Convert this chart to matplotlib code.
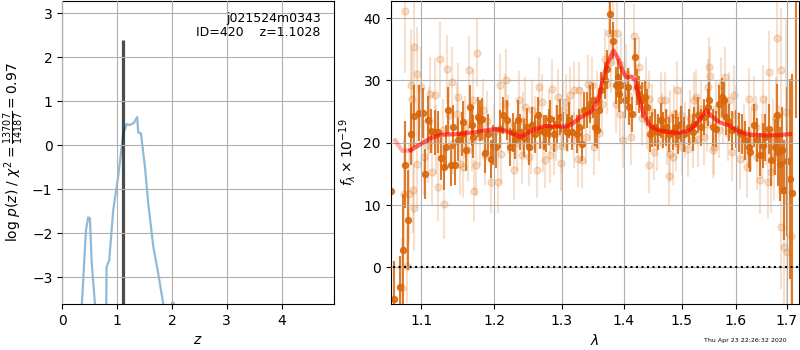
import numpy as np
import matplotlib
matplotlib.use("Agg")
import matplotlib.pyplot as plt
from matplotlib.ticker import FixedLocator, FixedFormatter, NullLocator

# ---- p(z) panel ----
zbest = 1.1028
zbest_top = 2.39
pz_z = [0.35, 0.432, 0.474, 0.505, 0.536, 0.596, 0.70, 0.80,
        0.802, 0.809, 0.857, 0.93, 1.02, 1.112, 1.174, 1.234, 1.307, 1.367,
        1.386, 1.435, 1.508, 1.568, 1.66, 1.75, 1.84, 1.95,
        1.99, 2.0, 2.03, 2.04]
pz_logp = [-3.8, -1.93, -1.64, -1.66, -2.64, -3.6, -8.0, -8.0,
           -3.7, -2.76, -2.61, -1.47, -0.71, 0.27, 0.48, 0.46, 0.51, 0.64,
           0.29, 0.27, -0.49, -1.32, -2.30, -2.91, -3.59, -6.0,
           -3.7, -3.58, -3.58, -3.7]

# ---- spectrum panel: binned (dark) points ----
dark_wave = [1.0614, 1.0645, 1.0725, 1.0755, 1.0791, 1.0822, 1.0867, 1.0902, 1.0968, 1.1022,
             1.1050, 1.1091, 1.1128, 1.1174, 1.1220, 1.1266, 1.1303, 1.1321, 1.1358, 1.1394,
             1.1427, 1.1449, 1.1496, 1.1541, 1.1565, 1.1596, 1.1655, 1.1679, 1.1702, 1.1761,
             1.1793, 1.1817, 1.1862, 1.1909, 1.1954, 1.1978, 1.2026, 1.2075, 1.2126, 1.2175,
             1.2225, 1.2261, 1.2300, 1.2340, 1.2375, 1.2426, 1.2475, 1.2510, 1.2550, 1.2600,
             1.2640, 1.2675, 1.2726, 1.2760, 1.2810, 1.2825, 1.2876, 1.2925, 1.2975, 1.3027,
             1.3080, 1.3117, 1.3161, 1.3241, 1.3278, 1.3321, 1.3348, 1.3401, 1.3454, 1.3498,
             1.3534, 1.3562, 1.3589, 1.3631, 1.3685, 1.3722, 1.3775, 1.3814, 1.3867, 1.3899,
             1.3920, 1.3952, 1.4018, 1.4065, 1.4088, 1.4135, 1.4182, 1.4223, 1.4263, 1.4310,
             1.4358, 1.4398, 1.4439, 1.4486, 1.4533, 1.4574, 1.4631, 1.4674, 1.4719, 1.4779,
             1.4837, 1.4895, 1.4942, 1.4982, 1.5044, 1.5136, 1.5197, 1.5228, 1.5289, 1.5349,
             1.5412, 1.5472, 1.5504, 1.5564, 1.5625, 1.5687, 1.5735, 1.5779, 1.5809, 1.5871,
             1.5932, 1.5993, 1.6057, 1.6119, 1.6181, 1.6245, 1.6276, 1.6340, 1.6402, 1.6465,
             1.6529, 1.6572, 1.6653, 1.6685, 1.6761, 1.6798, 1.6823, 1.6860, 1.6906, 1.6936,
             1.7012, 1.7064, 1.7116, 1.7185]
dark_flux = [12.2, -5.0, -3.1, 2.8, 16.5, 7.6, 21.4, 24.3, 24.8, 24.8,
             15.0, 23.7, 21.9, 21.7, 21.7, 17.5, 16.1, 19.3, 25.2, 16.5,
             22.5, 16.5, 20.5, 21.4, 23.3, 18.8, 25.8, 22.8, 21.0, 24.1,
             23.6, 23.8, 18.3, 21.4, 17.4, 19.6, 19.3, 22.2, 24.4, 23.6,
             19.3, 21.7, 20.4, 23.6, 21.7, 20.8, 22.5, 19.3, 22.8, 21.4,
             24.4, 22.0, 21.7, 21.5, 22.5, 23.8, 21.4, 23.0, 24.1, 22.2,
             21.7, 23.6, 21.7, 21.4, 22.5, 19.8, 25.2, 25.2, 26.2, 26.8,
             22.5, 22.0, 25.2, 28.4, 30.0, 31.8, 40.7, 36.4, 29.2, 30.5,
             27.8, 29.2, 26.8, 29.0, 25.7, 24.6, 33.8, 28.9, 27.8, 26.8,
             27.3, 25.7, 21.4, 22.1, 22.5, 21.7, 23.6, 22.0, 22.5, 21.4,
             21.7, 22.5, 21.2, 23.0, 21.4, 22.5, 21.7, 23.0, 24.4, 22.5,
             24.1, 25.7, 26.9, 22.5, 22.2, 26.2, 27.3, 26.8, 24.1, 23.3,
             22.0, 22.2, 21.7, 21.4, 20.4, 19.3, 18.5, 22.8, 20.4, 18.1,
             19.6, 20.9, 22.2, 17.3, 19.3, 24.5, 18.5, 16.6, 18.8, 12.4,
             17.0, 14.2, 12.0, 52.0]
dark_err = [30.0, 6.0, 5.0, 9.0, 7.0, 8.0, 5.0, 5.0, 4.5, 4.0,
            4.0, 3.8, 3.5, 3.6, 3.4, 3.5, 3.6, 3.5, 3.8, 3.4,
            3.5, 3.3, 3.4, 3.5, 3.4, 3.3, 3.5, 3.3, 3.4, 3.2,
            3.3, 3.4, 3.2, 3.3, 3.1, 3.2, 3.3, 3.1, 3.0, 3.2,
            3.0, 3.1, 3.0, 3.2, 2.9, 3.0, 3.1, 2.9, 3.0, 3.1,
            2.9, 3.0, 2.8, 3.0, 2.9, 3.0, 2.8, 3.0, 2.9, 2.8,
            3.0, 2.9, 2.8, 3.0, 2.9, 2.8, 3.0, 2.9, 3.0, 2.8,
            3.0, 2.9, 3.0, 2.9, 3.0, 3.1, 3.2, 3.0, 2.9, 3.0,
            2.9, 3.0, 2.9, 3.0, 2.9, 2.8, 3.0, 2.9, 3.0, 2.9,
            2.8, 3.0, 2.9, 2.8, 3.0, 2.9, 2.8, 2.9, 3.0, 2.8,
            2.9, 2.8, 3.0, 2.9, 2.8, 2.9, 3.0, 2.8, 2.9, 3.0,
            2.9, 3.0, 2.9, 3.0, 2.9, 3.0, 3.1, 3.0, 2.9, 3.0,
            3.1, 3.0, 3.1, 3.2, 3.1, 3.3, 3.2, 3.4, 3.5, 3.4,
            3.6, 3.8, 4.0, 4.2, 4.5, 5.0, 5.5, 6.0, 7.0, 8.0,
            12.0, 16.0, 19.0, 28.0]

# ---- spectrum panel: unbinned (light) points ----
light_wave = [1.0745, 1.0770, 1.0784, 1.0815, 1.0836, 1.0859, 1.0881, 1.0885, 1.0902, 1.0905,
              1.0938, 1.0947, 1.1000, 1.1036, 1.1083, 1.1118, 1.1142, 1.1174, 1.1220, 1.1242,
              1.1297, 1.1335, 1.1362, 1.1403, 1.1474, 1.1496, 1.1514, 1.1565, 1.1633, 1.1642,
              1.1702, 1.1711, 1.1734, 1.1748, 1.1840, 1.1862, 1.1954, 1.2051, 1.2075, 1.2100,
              1.2148, 1.2165, 1.2276, 1.2351, 1.2400, 1.2450, 1.2501, 1.2550, 1.2625, 1.2651,
              1.2700, 1.2750, 1.2825, 1.2850, 1.2876, 1.2940, 1.2990, 1.3027, 1.3064, 1.3133,
              1.3188, 1.3257, 1.3278, 1.3321, 1.3412, 1.3482, 1.3509, 1.3642, 1.3695, 1.3750,
              1.3814, 1.3867, 1.3883, 1.3936, 1.3990, 1.4123, 1.4175, 1.4253, 1.4368, 1.4428,
              1.4432, 1.4516, 1.4631, 1.4709, 1.4768, 1.4789, 1.4837, 1.4866, 1.4924, 1.5013,
              1.5105, 1.5228, 1.5257, 1.5301, 1.5472, 1.5504, 1.5510, 1.5564, 1.5595, 1.5717,
              1.5798, 1.5871, 1.5932, 1.5963, 1.6087, 1.6213, 1.6245, 1.6340, 1.6402, 1.6465,
              1.6529, 1.6623, 1.6653, 1.6685, 1.6747, 1.6811, 1.6874, 1.6892, 1.6936, 1.6980,
              1.7012, 1.7090,
              1.1105, 1.1190, 1.1280, 1.1420, 1.1580, 1.1680, 1.1800, 1.1900, 1.2000, 1.2200,
              1.2320, 1.2420, 1.2530, 1.2600, 1.2720, 1.2800, 1.2920, 1.3000, 1.3100, 1.3200,
              1.3300, 1.3380, 1.3450, 1.3560, 1.3600, 1.3720, 1.3790, 1.3950, 1.4030, 1.4080,
              1.4200, 1.4300, 1.4400, 1.4480, 1.4560, 1.4650, 1.4740, 1.4800, 1.4900, 1.4980,
              1.5060, 1.5150, 1.5200, 1.5350, 1.5400, 1.5450, 1.5620, 1.5680, 1.5760, 1.5850,
              1.6000, 1.6150, 1.6300, 1.6380, 1.6500, 1.6580, 1.6720, 1.6780, 1.6850]
light_flux = [-3.3, 11.8, 41.2, 0.3, 11.8, 29.3, 27.0, 12.5, 35.3, 9.6,
              16.6, 31.1, 29.0, 17.7, 19.6, 27.8, 15.3, 27.6, 12.9, 33.4,
              10.1, 31.8, 24.4, 29.8, 24.6, 27.3, 16.6, 16.1, 18.8, 31.7,
              26.9, 12.3, 16.5, 34.4, 25.2, 18.0, 13.7, 13.7, 29.3, 18.2,
              26.2, 30.1, 15.6, 26.8, 18.0, 25.7, 17.7, 25.2, 15.7, 29.0,
              26.5, 17.3, 18.0, 28.6, 19.3, 27.3, 16.7, 25.2, 26.6, 27.6,
              28.4, 17.4, 28.4, 17.3, 29.5, 29.2, 19.3, 26.2, 33.4, 37.7,
              37.7, 26.2, 37.7, 24.7, 20.4, 21.0, 37.2, 32.1, 29.2, 27.0,
              16.5, 18.5, 26.9, 26.8, 14.6, 18.2, 17.7, 24.7, 28.5, 19.3,
              19.0, 26.8, 27.3, 20.6, 28.9, 32.1, 30.8, 18.9, 19.4, 29.2,
              30.6, 26.8, 18.5, 27.7, 17.4, 16.1, 27.0, 25.7, 17.7, 14.0,
              27.0, 13.7, 31.4, 15.3, 17.7, 36.8, 6.5, 31.7, 3.3, 25.0,
              2.5, 5.0,
              23.5, 20.5, 22.0, 20.0, 22.5, 20.5, 21.0, 23.5, 21.5, 23.0,
              20.0, 23.5, 19.5, 23.0, 19.8, 24.0, 21.5, 19.5, 23.0, 20.5,
              24.5, 21.0, 24.5, 27.0, 21.5, 29.5, 33.0, 32.5, 31.0, 27.5,
              28.5, 24.0, 23.5, 25.0, 20.0, 23.5, 21.0, 24.0, 20.0, 24.5,
              22.0, 24.0, 20.5, 25.5, 21.0, 23.0, 25.5, 22.0, 24.5, 21.5,
              24.5, 21.5, 20.5, 22.5, 19.5, 22.0, 21.0, 24.0, 19.0]
light_err = [8.0, 9.0, 10.0, 6.0, 8.0, 9.0, 8.0, 7.0, 8.0, 7.0,
             7.0, 7.5, 6.5, 6.0, 6.0, 6.0, 5.5, 6.0, 5.5, 6.0,
             5.5, 5.5, 5.0, 5.5, 5.0, 5.5, 5.0, 5.0, 5.0, 5.5,
             5.0, 5.0, 5.0, 5.5, 5.0, 4.8, 5.0, 5.0, 5.0, 4.8,
             4.8, 5.0, 4.8, 4.8, 4.6, 4.8, 4.6, 4.8, 4.6, 4.8,
             4.6, 4.6, 4.5, 4.8, 4.5, 4.6, 4.5, 4.6, 4.5, 4.6,
             4.5, 4.5, 4.6, 4.5, 4.6, 4.5, 4.5, 4.6, 4.8, 5.0,
             5.0, 4.6, 5.0, 4.6, 4.5, 4.5, 5.0, 4.8, 4.6, 4.5,
             4.5, 4.5, 4.5, 4.5, 4.6, 4.5, 4.5, 4.5, 4.6, 4.5,
             4.5, 4.5, 4.6, 4.5, 4.6, 4.8, 4.6, 4.5, 4.5, 4.6,
             4.8, 4.6, 4.6, 4.8, 4.8, 5.0, 5.0, 5.0, 5.2, 5.5,
             5.5, 6.0, 6.5, 6.5, 7.0, 8.0, 10.0, 10.0, 12.0, 15.0,
             14.0, 20.0,
             5.5, 5.5, 5.0, 5.0, 5.0, 5.0, 4.8, 4.8, 4.8, 4.6,
             4.6, 4.6, 4.5, 4.5, 4.5, 4.5, 4.5, 4.5, 4.5, 4.5,
             4.5, 4.5, 4.6, 4.6, 4.5, 4.8, 5.0, 5.0, 4.8, 4.6,
             4.6, 4.5, 4.5, 4.5, 4.5, 4.5, 4.5, 4.5, 4.5, 4.5,
             4.5, 4.5, 4.5, 4.6, 4.5, 4.5, 4.6, 4.5, 4.6, 4.5,
             4.8, 4.8, 5.0, 5.0, 5.2, 5.5, 6.0, 6.5, 7.0]

# ---- best-fit model ----
model_wave = [1.0661, 1.0749, 1.0859, 1.0991, 1.1128, 1.1266, 1.1496, 1.1724, 1.2000, 1.2150,
              1.2276, 1.2375, 1.2450, 1.2600, 1.2750, 1.2899, 1.3053, 1.3161, 1.3294, 1.3454,
              1.3534, 1.3589, 1.3669, 1.3750, 1.3830, 1.3910, 1.3990, 1.4047, 1.4135, 1.4193,
              1.4253, 1.4340, 1.4456, 1.4603, 1.4779, 1.4954, 1.5136, 1.5289, 1.5441, 1.5533,
              1.5687, 1.5871, 1.6057, 1.6245, 1.6559, 1.6811, 1.7064]
model_flux = [20.4, 18.7, 18.8, 19.8, 20.8, 21.3, 21.4, 21.7, 22.2, 22.0,
              21.4, 20.9, 21.4, 22.2, 22.7, 22.6, 22.6, 23.0, 24.1, 24.9,
              26.0, 27.3, 30.8, 33.2, 34.8, 33.4, 31.3, 30.5, 30.6, 30.0,
              27.3, 24.4, 22.6, 22.0, 21.7, 21.6, 22.0, 23.3, 25.2, 24.4,
              23.3, 22.8, 21.8, 21.3, 21.2, 21.2, 21.4]

label_top = "j021524m0343"
label_bot = "ID=420    z=1.1028"
chi2_num, chi2_den, chi2_red = 13707, 14187, 0.97
timestamp = "Thu Apr 23 22:26:32 2020"

dark_color = "#d96609"
fs = 9

fig = plt.figure(figsize=(8, 3.5), dpi=100)
ax1 = fig.add_axes([0.0778, 0.1314, 0.34, 0.866])
ax2 = fig.add_axes([0.4884, 0.1314, 0.5104, 0.866])

# left: redshift probability
ax1.plot(pz_z, pz_logp, color="tab:blue", alpha=0.5, lw=1.6)
ax1.vlines(zbest, -4, zbest_top, color="k", alpha=0.7, lw=2.3)
ax1.set_xlim(0, 4.96)
ax1.set_ylim(-3.607, 3.28)
ax1.set_xticks([0, 1, 2, 3, 4])
ax1.set_yticks([-3, -2, -1, 0, 1, 2, 3])
ax1.grid(True)
ax1.set_axisbelow(False)
ax1.set_xlabel("$z$", fontsize=fs + 1)
ax1.set_ylabel("log $p(z)$ / $\\chi^2=\\frac{%d}{%d}=%.2f$" % (chi2_num, chi2_den, chi2_red),
               fontsize=fs + 1)
ax1.text(0.95, 0.965, label_top + "\n" + label_bot, transform=ax1.transAxes,
         ha="right", va="top", fontsize=fs, linespacing=1.1)
ax1.tick_params(labelsize=fs + 1)

# right: spectrum
ax2.errorbar(light_wave, light_flux, yerr=light_err, color=dark_color, alpha=0.2,
             marker="o", ms=5, linestyle="none", elinewidth=1.5, zorder=1)
ax2.errorbar(dark_wave, dark_flux, yerr=dark_err, color=dark_color, alpha=0.85,
             marker="o", ms=4.3, linestyle="none", elinewidth=1.5, zorder=2)
ax2.plot(model_wave[:3], model_flux[:3], color="red", alpha=0.3, lw=3, zorder=3)
ax2.plot(model_wave[2:], model_flux[2:], color="red", alpha=0.6, lw=3, zorder=3)
ax2.plot([1.0635, 1.73], [0, 0], color="k", linestyle=":", lw=1.5, zorder=3)

ax2.set_xscale("log")
ax2.set_xlim(1.0605, 1.725)
ax2.set_ylim(-5.87, 42.77)
wave_ticks = [1.1, 1.2, 1.3, 1.4, 1.5, 1.6, 1.7]
ax2.xaxis.set_major_locator(FixedLocator(wave_ticks))
ax2.xaxis.set_major_formatter(FixedFormatter(["%.1f" % w for w in wave_ticks]))
ax2.xaxis.set_minor_locator(NullLocator())
ax2.set_yticks([0, 10, 20, 30, 40])
ax2.grid(True)
ax2.set_axisbelow(False)
ax2.set_xlabel("$\\lambda$", fontsize=fs + 1)
ax2.set_ylabel("$f_\\lambda\\times10^{-19}$", fontsize=fs + 1)
ax2.tick_params(labelsize=fs + 1)

fig.text(0.983, 0.028, timestamp, ha="right", va="center", fontsize=4.5)

fig.savefig("out.png", dpi=100)
